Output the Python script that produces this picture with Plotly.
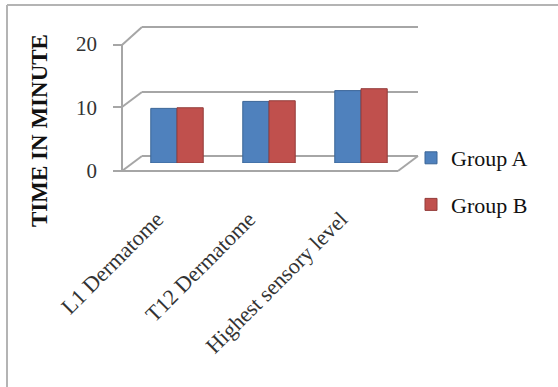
import plotly.graph_objects as go

categories = ["L1 Dermatome", "T12 Dermatome", "Highest sensory level"]
group_a = [8.6, 9.7, 11.4]
group_b = [8.7, 9.8, 11.7]
y_ticks = [0, 10, 20]
series_names = ["Group A", "Group B"]

FW, FH = 558, 387
L, R, T, B = 131, 407, 36, 163
W, H = R - L, B - T


def px(x):
    return (x - L) / W


def py(y):
    return (B - y) / H


FONT = "Liberation Serif, Times New Roman, serif"
GRID = "#A6A6A6"

fig = go.Figure()
fig.add_trace(go.Bar(x=categories, y=group_a, name=series_names[0],
                     marker=dict(color="#4F81BD", line=dict(color="#3B6597", width=1)),
                     legendgroup="a"))
fig.add_trace(go.Bar(x=categories, y=group_b, name=series_names[1],
                     marker=dict(color="#C0504D", line=dict(color="#933C3A", width=1)),
                     legendgroup="b"))

shapes = []


def line(x0, y0, x1, y1, color=GRID, width=2):
    shapes.append(dict(type="line", xref="paper", yref="paper",
                       x0=px(x0), y0=py(y0), x1=px(x1), y1=py(y1),
                       line=dict(color=color, width=width), layer="below"))


# outer frame
line(7, 5, 558, 5, "#B4B4B4", 2)
line(7, 5, 7, 387, "#B4B4B4", 2)
# back wall gridlines
for yb in (27, 92, 156):
    line(142, yb, 418, yb)
# left wall diagonals and front ticks
for yf, yb in ((45, 27), (107, 92), (171, 156)):
    line(122, yf, 142, yb)
    line(113, yf, 122, yf)
line(122, 45, 122, 171)
# floor
line(122, 171, 398, 171)
line(398, 171, 418, 156)

fig.update_layout(
    width=FW, height=FH,
    margin=dict(l=L, r=FW - R, t=T, b=FH - B, autoexpand=False),
    paper_bgcolor="white", plot_bgcolor="rgba(0,0,0,0)",
    barmode="group", bargap=0.43, bargroupgap=0,
    font=dict(family=FONT, color="#222", size=19),
    shapes=shapes,
    showlegend=True,
    legend=dict(x=px(411), y=py(137), xref="paper", yref="paper",
                xanchor="left", yanchor="top",
                font=dict(family=FONT, size=22, color="#111"),
                tracegroupgap=15, bgcolor="rgba(0,0,0,0)"),
    annotations=[dict(text="<b>TIME IN MINUTE</b>", xref="paper", yref="paper",
                      x=px(39), y=py(131), xanchor="center", yanchor="middle",
                      textangle=-90, showarrow=False,
                      font=dict(family=FONT, size=23, color="#111"))],
)
fig.update_xaxes(showgrid=False, showline=False, zeroline=False, ticks="",
                 automargin=False,
                 tickangle=-45, tickfont=dict(family=FONT, size=22, color="#333"),
                 ticklabelstandoff=38, ticklabelshift=-20)
fig.update_yaxes(range=[0, 20], tickvals=y_ticks, showgrid=False, showline=False,
                 zeroline=False, ticks="", automargin=False,
                 tickfont=dict(family=FONT, size=21, color="#333"),
                 ticklabelstandoff=33, ticklabelshift=8)

fig.write_html("out.html", config={"displayModeBar": False},
               post_script="document.body.style.margin='0';document.body.style.overflow='hidden';")
